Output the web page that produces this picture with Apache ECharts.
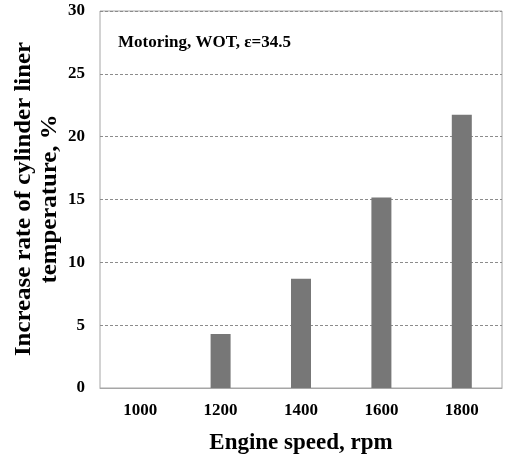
<!DOCTYPE html>
<html>
<head>
<meta charset="utf-8">
<script src="https://cdn.jsdelivr.net/npm/echarts@6/dist/echarts.min.js"></script>
<style>
  html, body { margin: 0; padding: 0; background: #fff; }
  #chart { width: 505px; height: 458px; }
</style>
</head>
<body>
<div id="chart"></div>
<script>
// Engine speed categories (rpm) and liner temperature increase rate (%)
const speeds = ['1000', '1200', '1400', '1600', '1800'];
const increaseRate = [0, 4.3, 8.7, 15.15, 21.75];
const yTicks = [0, 5, 10, 15, 20, 25, 30];

const serif = '"Liberation Serif", "DejaVu Serif", serif';

const chart = echarts.init(document.getElementById('chart'), null, { renderer: 'canvas' });

chart.setOption({
  animation: false,
  backgroundColor: '#ffffff',
  grid: { left: 100, right: 3, top: 11, bottom: 70, containLabel: false,
          outerBoundsMode: 'none',
          show: true, borderColor: '#a6a6a6', borderWidth: 1 },
  graphic: [
    {
      type: 'text', left: 118, top: 34,
      style: { text: 'Motoring, WOT, ε=34.5', font: 'bold 17px ' + serif, fill: '#000' }
    },
    {
      // axis titles
      type: 'text', x: 301, y: 443,
      style: {
        text: 'Engine speed, rpm', font: 'bold 23px ' + serif, fill: '#000',
        align: 'center', verticalAlign: 'middle'
      }
    },
    {
      type: 'text', x: 37, y: 199, rotation: Math.PI / 2, scaleX: 1.08,
      style: {
        text: 'Increase rate of cylinder liner\ntemperature, %',
        font: 'bold 23px ' + serif, fill: '#000',
        align: 'center', verticalAlign: 'middle', lineHeight: 26
      }
    }
  ],
  xAxis: {
    type: 'category',
    data: speeds,
    axisLine: { lineStyle: { color: '#a6a6a6', width: 1 } },
    axisTick: { show: false },
    axisLabel: { fontFamily: serif, fontWeight: 'bold', fontSize: 17, color: '#000', margin: 14 }
  },
  yAxis: {
    type: 'value',
    min: 0, max: 30, interval: 5,
    axisLine: { show: false },
    axisTick: { show: false },
    axisLabel: {
      fontFamily: serif, fontWeight: 'bold', fontSize: 17, color: '#000', margin: 15,
      formatter: v => (yTicks.indexOf(v) >= 0 ? String(v) : '')
    },
    splitLine: { show: true, lineStyle: { color: '#8c8c8c', type: [3, 2], width: 1 } }
  },
  series: [{
    type: 'bar',
    data: increaseRate,
    barWidth: 20,
    itemStyle: { color: '#777777' }
  }]
});
</script>
</body>
</html>
